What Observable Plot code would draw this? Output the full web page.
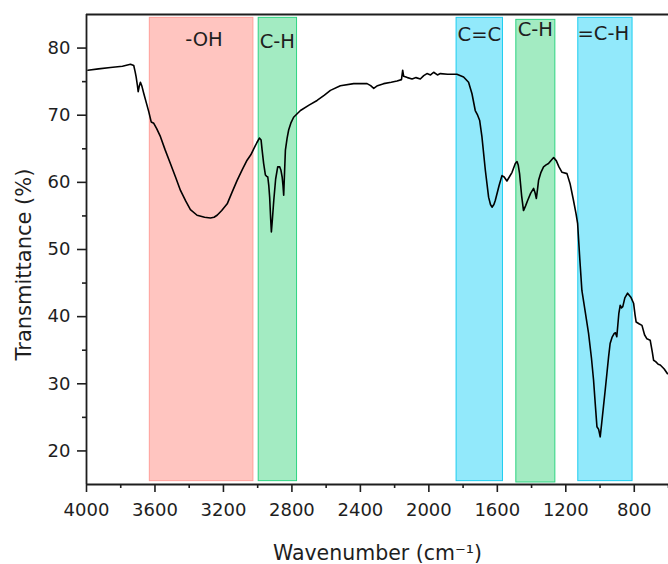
<!DOCTYPE html>
<html>
<head>
<meta charset="utf-8">
<script src="https://cdn.jsdelivr.net/npm/d3@7"></script>
<script src="https://cdn.jsdelivr.net/npm/@observablehq/plot@0.6"></script>
<style>
  html, body { margin: 0; padding: 0; background: #fff; }
  svg { display: block; }
</style>
</head>
<body>
<script>
// FTIR spectrum
const wavenumber = [3992,3930,3860,3790,3743,3724,3716,3710,3703,3698,3692,3685,3676,3665,3650,3636,3622,3607,3590,3568,3540,3510,3480,3451,3420,3393,3354,3310,3276,3255,3237,3210,3178,3150,3120,3090,3062,3040,3023,3005,2990,2980,2974,2965,2955,2947,2941,2935,2930,2924,2920,2914,2906,2895,2883,2871,2864,2857,2852,2848,2843,2838,2828,2819,2805,2790,2750,2700,2653,2610,2575,2517,2439,2361,2340,2322,2300,2264,2220,2186,2160,2153,2147,2125,2098,2075,2050,2030,2011,1990,1972,1950,1933,1890,1836,1797,1768,1748,1729,1715,1703,1690,1670,1651,1640,1631,1620,1612,1590,1573,1560,1544,1530,1514,1495,1485,1478,1470,1458,1447,1435,1423,1405,1388,1380,1372,1365,1359,1345,1330,1315,1301,1285,1271,1255,1240,1222,1193,1175,1155,1140,1131,1118,1106,1085,1067,1050,1038,1025,1018,1008,999,990,980,970,960,950,941,930,917,910,902,890,882,875,867,855,839,820,804,795,789,770,755,740,726,707,695,687,675,660,648,625,606];
const transmittance = [76.7,76.9,77.1,77.3,77.6,77.4,76.5,75.7,74.5,73.5,74.3,74.9,74.3,73.2,71.8,70.5,69.0,68.8,68.0,66.8,64.8,62.8,60.8,58.8,57.2,55.95,55.1,54.8,54.7,54.8,55.1,55.8,56.8,58.5,60.3,61.9,63.3,64.1,65.0,65.9,66.6,66.3,64.8,62.8,61.1,60.9,60.8,59.5,57.8,54.5,52.6,54.5,57.3,60.5,62.3,62.3,61.8,60.8,59.5,58.1,61.5,64.8,66.6,67.8,68.9,69.7,70.7,71.5,72.2,73.0,73.7,74.4,74.7,74.7,74.4,74.0,74.4,74.7,74.9,75.1,75.3,76.7,75.8,75.6,75.4,75.6,75.4,75.9,76.2,76.0,76.4,76.0,76.2,76.1,76.1,75.7,74.9,73.2,70.7,70.0,69.2,66.8,61.8,57.8,56.7,56.3,56.7,57.3,59.5,61.0,60.8,60.2,60.8,61.5,62.8,63.1,62.6,61.3,58.0,55.8,56.5,57.3,58.4,59.1,58.5,57.6,59.0,60.3,61.5,62.3,62.6,62.8,63.3,63.7,63.2,62.3,61.5,61.3,59.8,57.3,55.3,53.9,48.5,43.9,40.5,37.5,33.8,30.6,26.0,23.6,23.2,22.1,24.2,26.6,29.0,31.5,34.0,36.0,36.9,37.5,37.6,37.0,40.5,41.7,41.3,41.5,42.8,43.5,42.9,42.0,40.2,39.2,38.9,38.7,37.3,36.7,36.5,34.8,33.5,33.3,32.9,32.8,32.2,31.5];

// Highlighted bands
const bandLabel  = ["-OH", "C-H", "C=C", "C-H", "=C-H"];
const bandKind   = ["oh", "ch", "cc", "ch", "cc"];
const bandFrom   = [3630, 2994, 1838, 1489, 1127];
const bandTo     = [3025, 2770, 1567, 1261, 810];
const bandTop    = [84.5, 84.5, 84.5, 84.2, 84.5];
const bandBottom = [15.5, 15.5, 15.5, 15.3, 15.5];
const labelX     = [3314, 2885, 1705, 1378, 981];
const labelY     = [81.3, 81.0, 82.0, 82.7, 82.1];

// Axis ticks
const xMajorTicks = [4000, 3600, 3200, 2800, 2400, 2000, 1600, 1200, 800];
const xMinorTicks = [3800, 3400, 3000, 2600, 2200, 1800, 1400, 1000, 600];
const yMajorTicks = [20, 30, 40, 50, 60, 70, 80];
const yMinorTicks = [25, 35, 45, 55, 65, 75, 85];

const spectrum = wavenumber.map((w, i) => ({w, t: transmittance[i]}));
const bands = bandLabel.map((label, i) => ({
  label, kind: bandKind[i], x1: bandFrom[i], x2: bandTo[i],
  y1: bandBottom[i], y2: bandTop[i], lx: labelX[i], ly: labelY[i]
}));

const fillColor = {oh: "#ffc5c0", ch: "#a3ebc2", cc: "#92e9fb"};
const edgeColor = {oh: "#ff9f9a", ch: "#2ed482", cc: "#1ccdf0"};
const ink = "#1e1e1e";

const chart = Plot.plot({
  width: 668,
  height: 564,
  marginLeft: 86,
  marginRight: 0,
  marginTop: 14,
  marginBottom: 80,
  style: {fontFamily: "'DejaVu Sans', sans-serif", fontSize: "18px", color: ink, background: "#fff"},
  x: {domain: [4000, 600], label: null},
  y: {domain: [15, 85], label: null},
  marks: [
    Plot.rect(bands, {
      x1: "x1", x2: "x2", y1: "y1", y2: "y2",
      fill: d => fillColor[d.kind], stroke: d => edgeColor[d.kind], strokeWidth: 1
    }),
    Plot.line(spectrum, {x: "w", y: "t", stroke: "#000", strokeWidth: 1.6, curve: "linear"}),
    Plot.text(bands, {
      x: "lx", y: "ly", text: "label", fontSize: 19.5, fill: ink,
      textAnchor: "middle", lineAnchor: "middle"
    }),
    Plot.ruleX([4000], {y1: 15, y2: 85, stroke: ink, strokeWidth: 1.8}),
    Plot.ruleY([15], {stroke: ink, strokeWidth: 1.8}),
    Plot.ruleY([85], {stroke: ink, strokeWidth: 1.8}),
    Plot.axisX(xMajorTicks, {tickSize: 8, tickPadding: 11, stroke: ink, strokeWidth: 1.6, fill: ink, fontSize: 18, tickFormat: d => String(d), label: null}),
    Plot.axisX(xMinorTicks, {tickSize: 4, stroke: ink, strokeWidth: 1.6, tickFormat: () => "", label: null}),
    Plot.axisY(yMajorTicks, {tickSize: 9, tickPadding: 7, stroke: ink, strokeWidth: 1.6, fill: ink, fontSize: 18, tickFormat: d => String(d), label: null}),
    Plot.axisY(yMinorTicks.filter(v => v < 85), {tickSize: 4, stroke: ink, strokeWidth: 1.6, tickFormat: () => "", label: null}),
    Plot.text(["Transmittance (%)"], {
      frameAnchor: "left", dx: -62, dy: 15, rotate: -90,
      fontSize: 21, fill: ink, textAnchor: "middle", lineAnchor: "middle"
    }),
    Plot.text(["Wavenumber (cm\u207B\u00B9)"], {
      frameAnchor: "bottom", dy: 69,
      fontSize: 20.5, fill: ink, textAnchor: "middle", lineAnchor: "middle"
    })
  ]
});

document.body.appendChild(chart);
</script>
</body>
</html>
